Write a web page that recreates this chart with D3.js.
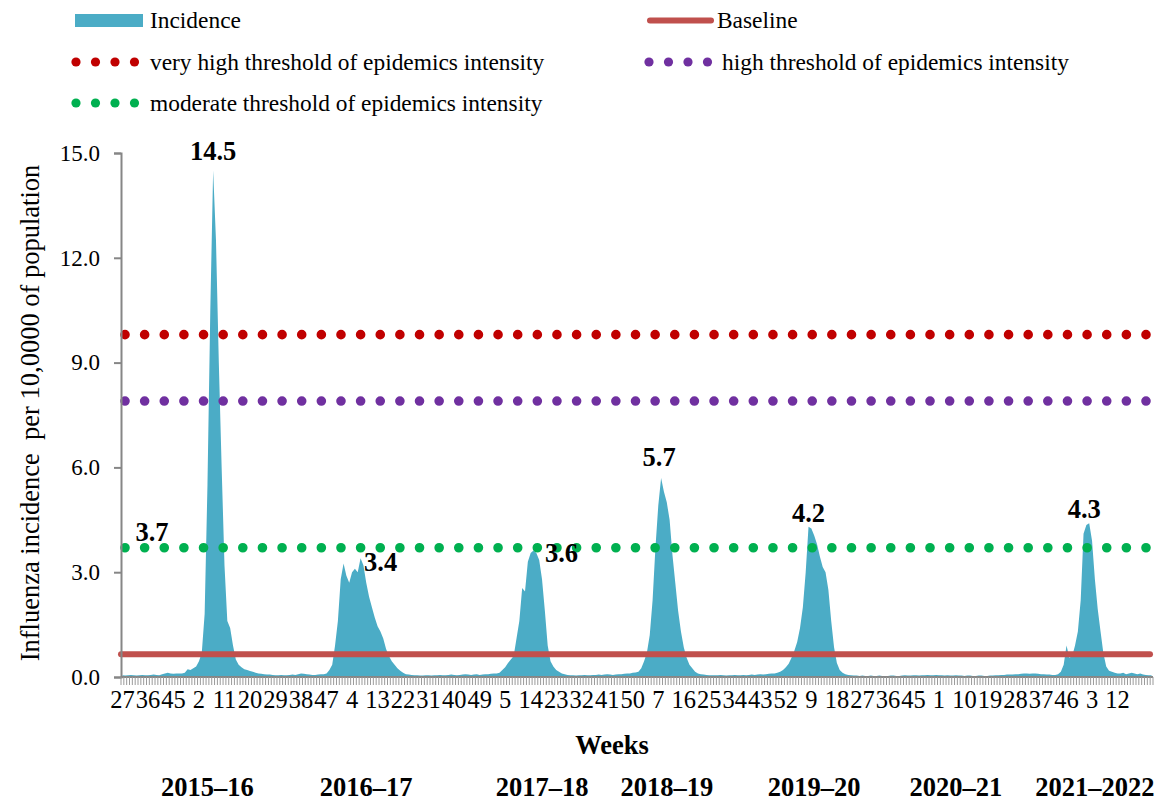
<!DOCTYPE html>
<html><head><meta charset="utf-8">
<script src="https://cdn.jsdelivr.net/npm/d3@7"></script>
<style>
body{margin:0;background:#fff}
svg{display:block}
svg text{font-family:"Liberation Serif","Times New Roman",serif}
</style>
</head><body>
<svg id="chart" width="1156" height="803"></svg>
<script>
// ---- data (weekly influenza incidence per 10,000), one array per season ----
const season2015_16 = [0.05,0.04,0.05,0.06,0.05,0.04,0.05,0.06,0.05,0.05,
  0.06,0.07,0.06,0.05,0.08,0.1,0.12,0.1,0.09,0.1,
  0.1,0.1,0.12,0.22,0.2,0.25,0.3,0.45,
  0.7,1.8,5.5,10.5,14.5,12.5,9.0,6.0,3.2,1.6,1.4,0.9,0.5,0.35,0.28,0.22,0.2,0.17,0.15,0.12,0.1,0.09,0.08,0.07];
const season2016_17 = [0.07,0.06,0.05,0.05,0.06,0.05,0.05,0.06,0.07,0.06,
  0.08,0.1,0.09,0.08,0.07,0.06,0.06,0.07,0.08,0.08,
  0.1,0.2,0.35,0.9,1.6,2.8,3.25,2.9,2.7,3.0,
  3.1,3.0,3.4,3.2,2.7,2.3,2.0,1.7,1.45,1.3,
  1.1,0.8,0.6,0.45,0.35,0.25,0.18,0.12,0.08,0.07,0.06,0.05];
const season2017_18 = [0.05,0.04,0.04,0.05,0.05,0.04,0.05,0.05,0.06,0.05,
  0.05,0.06,0.07,0.06,0.05,0.06,0.07,0.08,0.07,0.06,
  0.07,0.08,0.06,0.07,0.08,0.08,0.09,0.1,0.1,0.12,
  0.2,0.28,0.4,0.5,0.6,1.1,1.6,2.55,2.45,3.3,
  3.55,3.62,3.55,3.35,2.8,1.9,0.9,0.45,0.3,0.2,0.15,0.1,0.08];
const season2018_19 = [0.06,0.05,0.05,0.04,0.05,0.05,0.06,0.05,0.05,0.06,
  0.06,0.07,0.06,0.07,0.08,0.07,0.06,0.07,0.08,0.08,
  0.09,0.1,0.1,0.12,0.13,0.15,0.25,0.45,0.7,1.2,
  2.2,3.7,4.9,5.7,5.3,5.0,4.5,3.5,2.7,1.9,
  1.3,0.85,0.55,0.35,0.25,0.15,0.1,0.08,0.07,0.06,0.05,0.05];
const season2019_20 = [0.05,0.05,0.06,0.05,0.04,0.05,0.05,0.06,0.05,0.05,
  0.06,0.05,0.06,0.07,0.06,0.07,0.08,0.07,0.08,0.09,
  0.1,0.1,0.12,0.15,0.2,0.28,0.38,0.55,0.75,1.0,
  1.4,2.0,3.0,4.3,4.25,4.05,3.8,3.45,3.15,3.0,
  2.5,1.6,0.85,0.4,0.2,0.12,0.08,0.06,0.05,0.04,0.04,0.03];
const season2020_21 = [0.04,0.03,0.03,0.04,0.03,0.03,0.04,0.03,0.03,0.03,
  0.04,0.04,0.03,0.03,0.04,0.05,0.04,0.04,0.05,0.05,
  0.04,0.05,0.05,0.06,0.05,0.05,0.06,0.05,0.05,0.04,
  0.05,0.04,0.04,0.05,0.04,0.04,0.03,0.04,0.04,0.03,
  0.03,0.04,0.04,0.03,0.03,0.04,0.04,0.05,0.05,0.06,0.06,0.07,0.07];
const season2021_22 = [0.07,0.08,0.08,0.09,0.1,0.1,0.09,0.1,0.1,0.09,
  0.08,0.08,0.07,0.07,0.06,0.06,0.08,0.15,0.35,0.9,
  0.55,0.6,0.9,1.3,2.2,4.1,4.35,4.4,3.9,2.8,
  1.95,1.3,0.68,0.3,0.18,0.15,0.12,0.1,0.1,0.12,
  0.08,0.1,0.12,0.1,0.08,0.1,0.07,0.06,0.05,0.05];

const seasons = [season2015_16, season2016_17, season2017_18, season2018_19, season2019_20, season2020_21, season2021_22];
const seasonNames = ["2015–16","2016–17","2017–18","2018–19","2019–20","2020–21","2021–2022"];
const peakLabels = ["14.5","3.4","3.6","5.7","4.2",null,"4.3"];

// x tick labels (every 9th week)
const weekTickLabels = ["27","36","45","2","11","20","29","38","47","4","13","22","31","40","49","5","14","23","32","41","50","7","16","25","34","43","52","9","18","27","36","45","1","10","19","28","37","46","3","12"];
const tickEvery = 9;

const baselineValue = 0.65;
const thresholds = [
  {name:"very high threshold of epidemics intensity", value:9.8, color:"#C00000"},
  {name:"high threshold of epidemics intensity", value:7.9, color:"#7030A0"},
  {name:"moderate threshold of epidemics intensity", value:3.7, color:"#00B050"}
];
const yTicks = [0,3,6,9,12,15];

// ---- drawing ----
const FONT = '"Liberation Serif","Times New Roman",serif';
const incidence = seasons.flat();
const N = incidence.length;
const svg = d3.select("#chart");
const L = 121, R = 1153, T = 153, B = 677;

const x = d3.scaleBand().domain(d3.range(N)).range([L, R]).padding(0);
const bw = x.bandwidth();
const cx = i => x(i) + bw / 2;
const y = d3.scaleLinear().domain([0, 15]).range([B, T]);

const BLUE = "#4BACC6", AXIS = "#868686";

// area
svg.append("path")
  .datum(incidence)
  .attr("fill", BLUE)
  .attr("d", d3.area().x((d,i)=>cx(i)).y0(y(0)).y1(d=>y(d)));

// baseline
svg.append("line")
  .attr("x1", L).attr("x2", R - 3)
  .attr("y1", y(baselineValue)).attr("y2", y(baselineValue))
  .attr("stroke", "#C0504D").attr("stroke-width", 6).attr("stroke-linecap", "round");

// thresholds (round dots)
const dotStart = L + 4, dotEnd = 1146, dotGap = (dotEnd - dotStart) / 52;
thresholds.forEach(t => {
  svg.append("line")
    .attr("x1", dotStart).attr("x2", dotEnd + 0.5)
    .attr("y1", y(t.value)).attr("y2", y(t.value))
    .attr("stroke", t.color).attr("stroke-width", 9.6)
    .attr("stroke-linecap", "round")
    .attr("stroke-dasharray", `0 ${dotGap}`);
});

// y axis
const yAxis = svg.append("g").attr("transform", `translate(${L},0)`)
  .call(d3.axisLeft(y).tickValues(yTicks).tickFormat(d3.format(".1f")).tickSize(7).tickPadding(14));
yAxis.attr("font-family", FONT);
yAxis.select(".domain").attr("stroke", AXIS).attr("stroke-width", 2);
yAxis.selectAll(".tick line").attr("stroke", AXIS).attr("stroke-width", 2);
yAxis.selectAll(".tick text").attr("font-size", 23).attr("fill", "#000");

// x axis line + dense ticks
svg.append("line").attr("x1", L).attr("x2", R).attr("y1", B).attr("y2", B)
  .attr("stroke", AXIS).attr("stroke-width", 2);
svg.append("g").selectAll("line").data(d3.range(N + 1)).join("line")
  .attr("x1", i => L + i * bw).attr("x2", i => L + i * bw)
  .attr("y1", B).attr("y2", B + 8)
  .attr("stroke", "#9a9a9a").attr("stroke-width", 1);

// x tick labels
svg.append("g").selectAll("text").data(weekTickLabels).join("text")
  .attr("x", (d,k) => cx(k * tickEvery))
  .attr("y", 708)
  .attr("text-anchor", "middle")
  .attr("font-size", 24.5)
  .text(d => d);

// axis titles
svg.append("text").attr("x", 612).attr("y", 754).attr("text-anchor", "middle")
  .attr("font-size", 26.5).attr("font-weight", "bold").text("Weeks");
svg.append("text")
  .attr("transform", "translate(39,413) rotate(-90)")
  .attr("text-anchor", "middle").attr("font-size", 26.5)
  .style("white-space", "pre")
  .text("Influenza incidence  per 10,0000 of population");

// season labels below axis
const seasonLabelWeek = [30, 86, 148, 192, 244, 294, 343];
svg.append("g").selectAll("text").data(seasonNames).join("text")
  .attr("x", (d,k) => cx(seasonLabelWeek[k]))
  .attr("y", 796)
  .attr("text-anchor", "middle").attr("font-size", 26.5).attr("font-weight", "bold")
  .text(d => d);

// peak data labels
const labelOffsets = [[0,-10],[20,13],[28,11],[-2,-12],[0,-5],[0,0],[-5,-5]];
let offset = 0;
seasons.forEach((s, k) => {
  const mi = d3.maxIndex(s);
  const gi = offset + mi;
  if (peakLabels[k]) {
    svg.append("text")
      .attr("x", cx(gi) + labelOffsets[k][0])
      .attr("y", y(s[mi]) + labelOffsets[k][1])
      .attr("text-anchor", "middle").attr("font-size", 26.5).attr("font-weight", "bold")
      .text(peakLabels[k]);
  }
  offset += s.length;
});
// moderate threshold label
svg.append("text").attr("x", 152).attr("y", y(thresholds[2].value) - 7)
  .attr("text-anchor", "middle").attr("font-size", 26.5).attr("font-weight", "bold")
  .text(d3.format(".1f")(thresholds[2].value));

// legend
const lg = svg.append("g").attr("font-size", 23.4);
lg.append("rect").attr("x", 75).attr("y", 14).attr("width", 68).attr("height", 13).attr("fill", BLUE);
lg.append("text").attr("x", 150).attr("y", 28).text("Incidence");
lg.append("line").attr("x1", 650).attr("x2", 711).attr("y1", 20.5).attr("y2", 20.5)
  .attr("stroke", "#C0504D").attr("stroke-width", 6).attr("stroke-linecap", "round");
lg.append("text").attr("x", 717).attr("y", 28).text("Baseline");
const legendRows = [
  {t: thresholds[0], x: 76, ty: 62, tx: 150},
  {t: thresholds[1], x: 649, ty: 62, tx: 722},
  {t: thresholds[2], x: 76, ty: 103, tx: 150}
];
legendRows.forEach(r => {
  lg.append("g").selectAll("circle").data(d3.range(4)).join("circle")
    .attr("cx", k => r.x + k * 19.5).attr("cy", r.ty).attr("r", 4.6).attr("fill", r.t.color);
  lg.append("text").attr("x", r.tx).attr("y", r.ty + 8).text(r.t.name);
});
</script>
</body></html>
